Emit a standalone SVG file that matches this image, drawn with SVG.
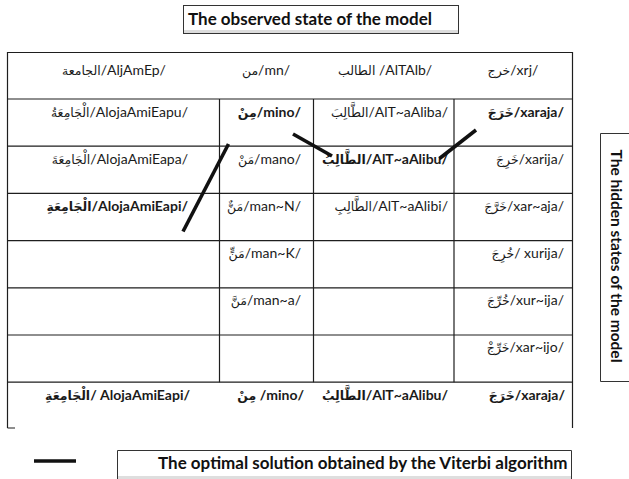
<svg xmlns="http://www.w3.org/2000/svg" width="629" height="479" viewBox="0 0 629 479">
  <style>
    .grid { stroke: #1e1e1e; stroke-width: 1.2; fill: none; }
    .box { stroke: #333; stroke-width: 1; fill: #fff; }
    .cap { font-family: Lato, "DejaVu Sans", sans-serif; font-weight: bold; font-size: 17px; fill: #111; }
    .t { font-family: Lato, "DejaVu Sans", sans-serif; font-size: 14px; fill: #1a1a1a; }
    .b { font-weight: bold; }
    .ar { font-family: "DejaVu Sans", sans-serif; font-size: 12.5px; }
    .mid { text-anchor: middle; }
    .end { text-anchor: end; }
    .path { stroke: #111; stroke-width: 3.6; stroke-linecap: butt; fill: none; }
  </style>

  <rect width="629" height="479" fill="#fff"/>

  <!-- observed-state caption -->
  <g id="observed-label">
    <rect x="183.5" y="5.5" width="275" height="28" class="box"/>
    <rect x="184" y="30" width="274" height="3" fill="#dcdcdc"/>
    <text x="188" y="25" class="cap">The observed state of the model</text>
  </g>

  <!-- hidden-state caption, rotated -->
  <g id="hidden-label">
    <path d="M 632 133.5 H 600.5 V 381.5 H 632" class="box"/>
    <text transform="translate(611,256) rotate(90)" class="cap mid" style="font-size:15.5px">The hidden states of the model</text>
  </g>

  <!-- table grid -->
  <g id="table">
    <path class="grid" d="M 7.5 428 V 52.5 H 572.5 V 428 M 7.5 428 H 15"/>
    <path class="grid" d="M 7.5 99 H 572.5 M 7.5 146.2 H 572.5 M 7.5 193.4 H 572.5 M 7.5 240.6 H 572.5 M 7.5 287.8 H 572.5 M 7.5 335 H 572.5 M 7.5 382.2 H 572.5"/>
    <path class="grid" d="M 219.5 99 V 382.2 M 313.5 99 V 382.2 M 454 99 V 382.2"/>
  </g>

  <!-- observed words (header row) -->
  <g id="observed-words">
    <text x="114" y="75" class="t mid"><tspan class="ar">الجامعة</tspan>/AljAmEp/</text>
    <text x="266" y="75" class="t mid"><tspan class="ar">من</tspan>/mn/</text>
    <text x="385" y="75" class="t mid"><tspan class="ar">الطالب</tspan> /AlTAlb/</text>
    <text x="513" y="75" class="t mid"><tspan class="ar">خرج</tspan>/xrj/</text>
  </g>

  <!-- candidate states, column 1 -->
  <g id="col-aljamiea">
    <text x="188" y="117" class="t end"><tspan class="ar">الْجَامِعَةُ</tspan>/AlojaAmiEapu/</text>
    <text x="188" y="164" class="t end"><tspan class="ar">الْجَامِعَةَ</tspan>/AlojaAmiEapa/</text>
    <text x="188" y="211" class="t b end"><tspan class="ar">الْجَامِعَةِ</tspan>/AlojaAmiEapi/</text>
  </g>

  <!-- candidate states, column 2 -->
  <g id="col-min">
    <text x="301" y="117" class="t b end"><tspan class="ar">مِنْ</tspan>/mino/</text>
    <text x="301" y="164" class="t end"><tspan class="ar">مَنْ</tspan>/mano/</text>
    <text x="301" y="211" class="t end"><tspan class="ar">مَنٌّ</tspan>/man~N/</text>
    <text x="301" y="258" class="t end"><tspan class="ar">مَنٍّ</tspan>/man~K/</text>
    <text x="301" y="305" class="t end"><tspan class="ar">مَنَّ</tspan>/man~a/</text>
  </g>

  <!-- candidate states, column 3 -->
  <g id="col-talib">
    <text x="448" y="117" class="t end"><tspan class="ar">الطَّالِبَ</tspan>/AlT~aAliba/</text>
    <text x="448" y="164" class="t b end"><tspan class="ar">الطَّالِبُ</tspan>/AlT~aAlibu/</text>
    <text x="448" y="211" class="t end"><tspan class="ar">الطَّالِبِ</tspan>/AlT~aAlibi/</text>
  </g>

  <!-- candidate states, column 4 -->
  <g id="col-kharaja">
    <text x="564" y="117" class="t b end"><tspan class="ar">خَرَجَ</tspan>/xaraja/</text>
    <text x="564" y="164" class="t end"><tspan class="ar">خَرِجَ</tspan>/xarija/</text>
    <text x="564" y="211" class="t end"><tspan class="ar">خَرَّجَ</tspan>/xar~aja/</text>
    <text x="564" y="258" class="t end"><tspan class="ar">خُرِجَ</tspan>/ xurija/</text>
    <text x="564" y="305" class="t end"><tspan class="ar">خُرِّجَ</tspan>/xur~ija/</text>
    <text x="564" y="352" class="t end"><tspan class="ar">خَرِّجْ</tspan>/xar~ijo/</text>
  </g>

  <!-- decoded sentence -->
  <g id="result-row">
    <text x="190" y="400" class="t b end"><tspan class="ar">الْجَامِعَةِ</tspan>/ AlojaAmiEapi/</text>
    <text x="304" y="400" class="t b end"><tspan class="ar">مِنْ</tspan> /mino/</text>
    <text x="448" y="400" class="t b end"><tspan class="ar">الطَّالِبُ</tspan>/AlT~aAlibu/</text>
    <text x="565" y="400" class="t b end"><tspan class="ar">خَرَجَ</tspan>/xaraja/</text>
  </g>

  <!-- best path links -->
  <g id="connectors">
    <line x1="476" y1="130" x2="439.5" y2="158.5" class="path"/>
    <line x1="293" y1="134" x2="332" y2="156" class="path"/>
    <line x1="228.5" y1="144" x2="183" y2="231.5" class="path"/>
  </g>

  <!-- legend -->
  <g id="legend">
    <line x1="34" y1="461" x2="76" y2="461" class="path"/>
    <path d="M 117.5 482 V 450.5 H 571.5 V 482" class="box"/>
    <rect x="118" y="476" width="453" height="3" fill="#dedede"/>
    <text x="158" y="469" class="cap">The optimal solution obtained by the Viterbi algorithm</text>
  </g>
</svg>
